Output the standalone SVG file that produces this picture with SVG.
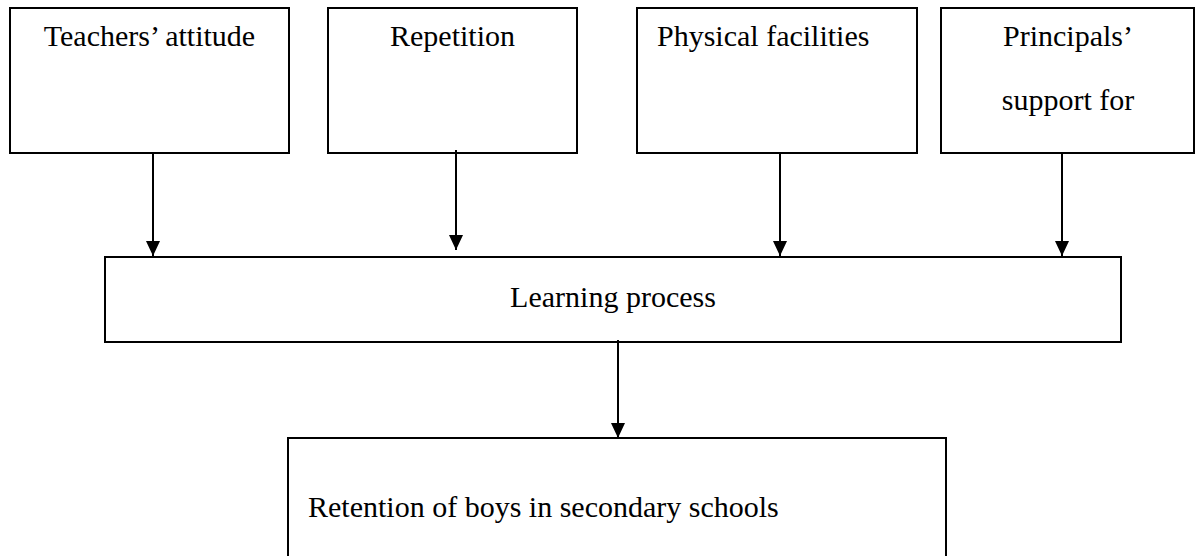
<svg xmlns="http://www.w3.org/2000/svg" width="1197" height="556" viewBox="0 0 1197 556">
<defs>
<style>
.box{fill:#fff;stroke:#000;stroke-width:2}
.t{font-family:"Liberation Serif","Times New Roman",serif;font-size:30px;fill:#000}
.c{stroke:#000;stroke-width:2;fill:none}
</style>
<marker id="ah" viewBox="0 0 15 14" refX="15" refY="7" markerWidth="15" markerHeight="14" markerUnits="userSpaceOnUse" orient="auto">
<path d="M0,0 L15,7 L0,14 Z" fill="#000"/>
</marker>
</defs>
<rect width="1197" height="556" fill="#fff"/>
<g id="n1"><rect class="box" x="10" y="8" width="279" height="145"/><text class="t" x="149.5" y="46" text-anchor="middle">Teachers’ attitude</text></g>
<g id="n2"><rect class="box" x="328" y="8" width="249" height="145"/><text class="t" x="452.5" y="46" text-anchor="middle">Repetition</text></g>
<g id="n3"><rect class="box" x="637" y="8" width="280" height="145"/><text class="t" x="657" y="46">Physical facilities</text></g>
<g id="n4"><rect class="box" x="941" y="8" width="253" height="145"/><text class="t" x="1068" y="46" text-anchor="middle">Principals’</text><text class="t" x="1068" y="110" text-anchor="middle">support for</text></g>
<g id="n5"><rect class="box" x="105" y="257" width="1016" height="85"/><text class="t" x="613" y="307" text-anchor="middle">Learning process</text></g>
<g id="n6"><rect class="box" x="288" y="438" width="658" height="130"/><text class="t" x="308" y="517">Retention of boys in secondary schools</text></g>
<g id="connectors">
<line class="c" x1="153" y1="153" x2="153" y2="256" marker-end="url(#ah)"/>
<line class="c" x1="456" y1="150" x2="456" y2="250" marker-end="url(#ah)"/>
<line class="c" x1="780" y1="153" x2="780" y2="256" marker-end="url(#ah)"/>
<line class="c" x1="1062" y1="153" x2="1062" y2="256" marker-end="url(#ah)"/>
<line class="c" x1="618" y1="340" x2="618" y2="438" marker-end="url(#ah)"/>
</g>
</svg>
